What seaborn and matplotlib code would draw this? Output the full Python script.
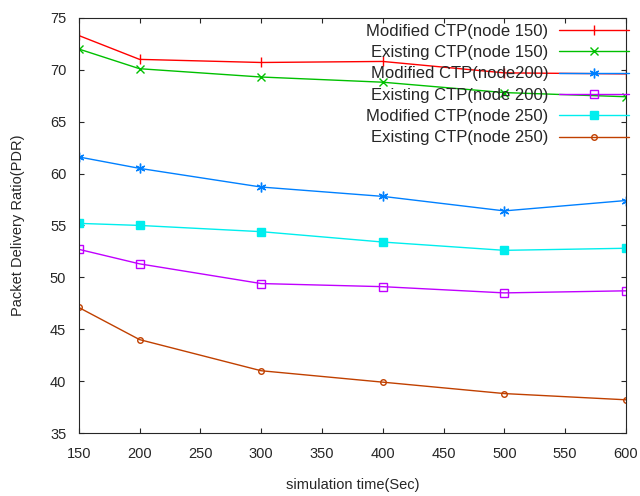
import pandas as pd
import seaborn as sns
import matplotlib.pyplot as plt

sns.set_style("ticks")
plt.rcParams['font.family'] = ['Liberation Sans', 'DejaVu Sans']

sim_time = [150, 200, 300, 400, 500, 600]
mod_150 = [73.3, 71.0, 70.7, 70.8, 69.7, 69.6]
exist_150 = [72.0, 70.1, 69.3, 68.8, 67.8, 67.4]
mod_200 = [61.6, 60.5, 58.7, 57.8, 56.4, 57.4]
exist_200 = [52.7, 51.3, 49.4, 49.1, 48.5, 48.7]
mod_250 = [55.2, 55.0, 54.4, 53.4, 52.6, 52.8]
exist_250 = [47.1, 44.0, 41.0, 39.9, 38.8, 38.2]

series = [
    ("Modified CTP(node 150)", mod_150, "#ff0000", "|", 7, "full"),
    ("Existing CTP(node 150)", exist_150, "#00c000", "x", 6, "full"),
    ("Modified CTP(node200)", mod_200, "#0080ff", (6, 2, 0), 7, "full"),
    ("Existing CTP(node 200)", exist_200, "#c000ff", "s", 6, "none"),
    ("Modified CTP(node 250)", mod_250, "#00eeee", "s", 5.5, "full"),
    ("Existing CTP(node 250)", exist_250, "#c04000", "o", 4, "none"),
]

fig, ax = plt.subplots(figsize=(6.4, 4.96), dpi=100)
fig.subplots_adjust(left=0.123, right=0.978, top=0.964, bottom=0.127)

for name, vals, col, mk, ms, fs in series:
    df = pd.DataFrame({"time": sim_time, "pdr": vals})
    sns.lineplot(data=df, x="time", y="pdr", ax=ax, color=col, marker=mk,
                 markersize=ms, fillstyle=fs, markeredgecolor=col,
                 markeredgewidth=1, linewidth=1, label=name)

ax.set_xlim(150, 600)
ax.set_ylim(35, 75)
ax.set_xticks(range(150, 601, 50))
ax.set_yticks(range(35, 76, 5))
ax.tick_params(direction="in", top=True, right=True, labelsize=10.5,
               length=3.5, width=0.8)
ax.tick_params(axis="x", pad=10)
ax.tick_params(axis="y", pad=9)
ax.set_xlabel("simulation time(Sec)", fontsize=10.5, labelpad=12)
ax.set_ylabel("Packet Delivery Ratio(PDR)", fontsize=10.5, labelpad=18)

leg = ax.legend(loc="upper right", frameon=False, markerfirst=False,
                fontsize=12, handlelength=4.2, labelspacing=0.38,
                borderaxespad=0.2, handletextpad=0.6,
                bbox_to_anchor=(1.023, 1.01))
leg._legend_box.align = "right"
for t in leg.get_texts():
    t.set_ha("right")

fig.savefig("out.png")
